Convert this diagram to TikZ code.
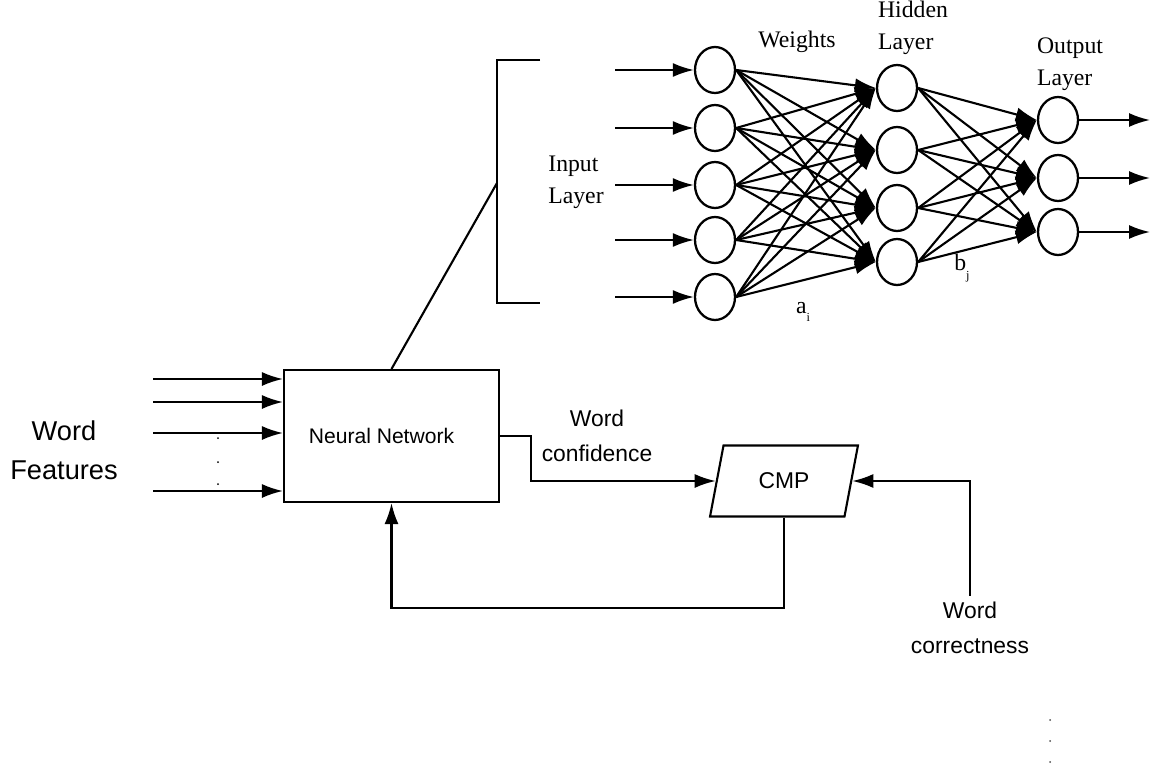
\documentclass[tikz,border=0pt]{standalone}
\usepackage{fontspec}
\setmainfont{Liberation Serif}
\setsansfont{Liberation Sans}
\usetikzlibrary{shapes,arrows.meta,positioning,calc}
\tikzset{
    neuron/.style={
        ellipse,                  % neuronas algo más altas que anchas
        draw,
        line width=1.3pt,
        minimum width=0.8cm,
        minimum height=0.92cm,
        inner sep=0pt
    },
    link/.style={
        line width=1.2pt,
        -{Latex[length=0.42cm,width=0.28cm]}
    },
    wire/.style={line width=1.2pt},
    block/.style={
        rectangle,
        draw,
        line width=1.2pt,
        minimum width=4.3cm,
        minimum height=2.64cm
    },
    cmpbox/.style={
        trapezium,
        trapezium left angle=76,
        trapezium right angle=104,
        trapezium stretches=true,
        draw,
        line width=1.2pt,
        minimum width=2.96cm,
        minimum height=1.42cm,
        font=\sffamily\fontsize{13}{15}\selectfont
    },
    nnlabel/.style={font=\fontsize{13.5}{18}\selectfont, align=left},
    caption/.style={font=\sffamily\fontsize{13}{20}\selectfont, align=center}
}
\begin{document}
\begin{tikzpicture}[x=0.02cm, y=-0.02cm]
    \useasboundingbox (0,0) rectangle (1166,767);

    % red neuronal en detalle
    \foreach \y [count=\i] in {70,128,185,240,297} {
        \node[neuron] (in\i) at (715,\y) {};
        \coordinate (src\i) at (615,\y);
        \draw[link] (src\i) -- (in\i);
    }
    \foreach \y [count=\j] in {88,150,208,262}
        \node[neuron] (hid\j) at (897,\y) {};
    \foreach \y [count=\k] in {120,178,232} {
        \node[neuron] (out\k) at (1058,\y) {};
        \coordinate (dst\k) at (1150,\y);
        \draw[link] (out\k) -- (dst\k);
    }
    \foreach \i in {1,...,5}
        \foreach \j in {1,...,4}
            \draw[link] (in\i.east) -- (hid\j.west);
    \foreach \j in {1,...,4}
        \foreach \k in {1,...,3}
            \draw[link] (hid\j.east) -- (out\k.west);

    \node[nnlabel] (inlab) at (576,182) {Input\\Layer};
    \node[nnlabel] (wlab) at (797,42) {Weights};
    \node[nnlabel] (hidlab) at (913,28) {Hidden\\Layer};
    \node[nnlabel] (outlab) at (1070,64) {Output\\Layer};
    \node[nnlabel] (alab) at (803,312) {a\raisebox{-0.8ex}{\scriptsize i}};
    \node[nnlabel] (blab) at (962,268) {b\raisebox{-0.8ex}{\scriptsize j}};

    % corchete
    \coordinate (brk) at (497,183);
    \draw[wire] (540,60) -- (497,60) -- (497,303) -- (540,303);

    % diagrama de bloques
    \node[block, label={[xshift=-0.2cm, font=\sffamily\fontsize{12}{14}\selectfont]center:Neural Network}] (nn) at (391.5,436) {};
    \node[cmpbox] (cmp) at (784,481) {CMP};
    \node[caption, font=\sffamily\fontsize{15.5}{22}\selectfont] (wf) at (64,450) {Word\\Features};
    \node[caption] (wconf) at (597,436) {Word\\confidence};
    \node[caption] (wcorr) at (970,628) {Word\\correctness};

    \foreach \y [count=\i] in {379,402,433,491} {
        \coordinate (f\i) at (153,\y);
        \draw[link] (f\i) -- (f\i -| nn.west);
    }
    \foreach \y in {438,462,484}
        \fill (218,\y) circle (1);

    \draw[wire] (brk) -- (nn.north);
    \draw[link] (nn.east) -- ++(31,0) |- (cmp.west);
    \draw[link] (wcorr.north) |- (cmp.east);
    \draw[link] (cmp.south) -- ++(0,90) -| (nn.south);

    \foreach \y in {720,741,762}
        \fill[black!70] (1050,\y) circle (1);
\end{tikzpicture}
\end{document}
